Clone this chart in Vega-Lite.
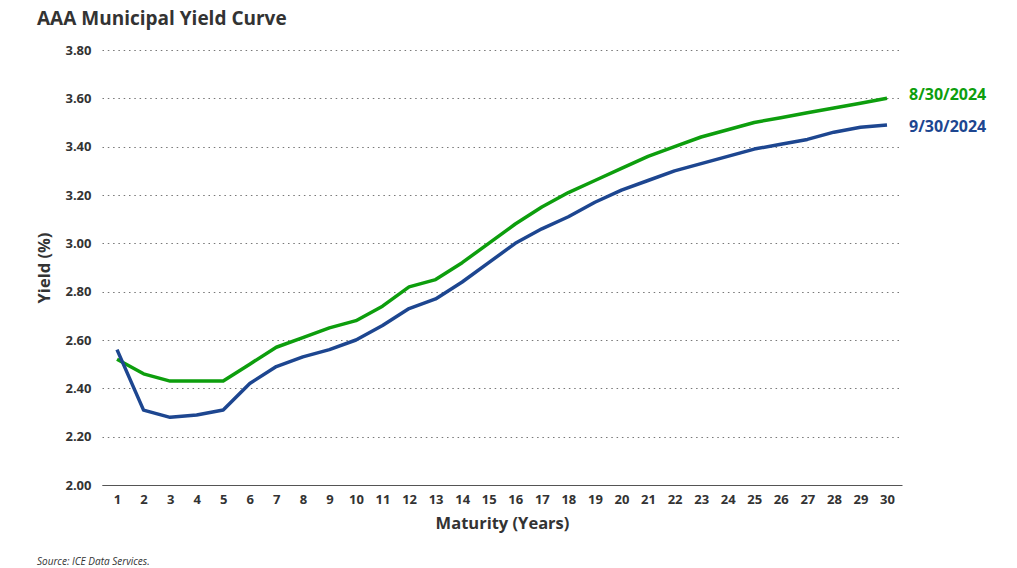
{
  "$schema": "https://vega.github.io/schema/vega-lite/v6.json",
  "padding": {"left": 36, "top": 10, "right": 10, "bottom": 4},
  "background": "white",
  "title": {"text": "AAA Municipal Yield Curve", "anchor": "start", "frame": "bounds", "fontSize": 19, "font": "Open Sans", "fontWeight": "bold", "color": "#333333", "offset": 15},
  "config": {
    "view": {"stroke": null},
    "font": "Open Sans",
    "axis": {"labelFont": "Open Sans", "titleFont": "Open Sans", "labelFontWeight": "bold", "titleFontWeight": "bold", "labelColor": "#333333", "titleColor": "#333333", "labelFontSize": 13, "titleFontSize": 16.5, "ticks": false}
  },
  "vconcat": [
    {
      "width": 800,
      "height": 435,
      "title": {"text": "Source: ICE Data Services.", "orient": "bottom", "anchor": "start", "frame": "bounds", "fontSize": 10, "fontStyle": "italic", "fontWeight": "normal", "font": "Open Sans", "color": "#333333", "offset": 25},
      "data": {"values": [
        {"maturity": 1, "date": "8/30/2024", "yield": 2.52}, {"maturity": 2, "date": "8/30/2024", "yield": 2.46},
        {"maturity": 3, "date": "8/30/2024", "yield": 2.43}, {"maturity": 4, "date": "8/30/2024", "yield": 2.43},
        {"maturity": 5, "date": "8/30/2024", "yield": 2.43}, {"maturity": 6, "date": "8/30/2024", "yield": 2.50},
        {"maturity": 7, "date": "8/30/2024", "yield": 2.57}, {"maturity": 8, "date": "8/30/2024", "yield": 2.61},
        {"maturity": 9, "date": "8/30/2024", "yield": 2.65}, {"maturity": 10, "date": "8/30/2024", "yield": 2.68},
        {"maturity": 11, "date": "8/30/2024", "yield": 2.74}, {"maturity": 12, "date": "8/30/2024", "yield": 2.82},
        {"maturity": 13, "date": "8/30/2024", "yield": 2.85}, {"maturity": 14, "date": "8/30/2024", "yield": 2.92},
        {"maturity": 15, "date": "8/30/2024", "yield": 3.00}, {"maturity": 16, "date": "8/30/2024", "yield": 3.08},
        {"maturity": 17, "date": "8/30/2024", "yield": 3.15}, {"maturity": 18, "date": "8/30/2024", "yield": 3.21},
        {"maturity": 19, "date": "8/30/2024", "yield": 3.26}, {"maturity": 20, "date": "8/30/2024", "yield": 3.31},
        {"maturity": 21, "date": "8/30/2024", "yield": 3.36}, {"maturity": 22, "date": "8/30/2024", "yield": 3.40},
        {"maturity": 23, "date": "8/30/2024", "yield": 3.44}, {"maturity": 24, "date": "8/30/2024", "yield": 3.47},
        {"maturity": 25, "date": "8/30/2024", "yield": 3.50}, {"maturity": 26, "date": "8/30/2024", "yield": 3.52},
        {"maturity": 27, "date": "8/30/2024", "yield": 3.54}, {"maturity": 28, "date": "8/30/2024", "yield": 3.56},
        {"maturity": 29, "date": "8/30/2024", "yield": 3.58}, {"maturity": 30, "date": "8/30/2024", "yield": 3.60},
        {"maturity": 1, "date": "9/30/2024", "yield": 2.56}, {"maturity": 2, "date": "9/30/2024", "yield": 2.31},
        {"maturity": 3, "date": "9/30/2024", "yield": 2.28}, {"maturity": 4, "date": "9/30/2024", "yield": 2.29},
        {"maturity": 5, "date": "9/30/2024", "yield": 2.31}, {"maturity": 6, "date": "9/30/2024", "yield": 2.42},
        {"maturity": 7, "date": "9/30/2024", "yield": 2.49}, {"maturity": 8, "date": "9/30/2024", "yield": 2.53},
        {"maturity": 9, "date": "9/30/2024", "yield": 2.56}, {"maturity": 10, "date": "9/30/2024", "yield": 2.60},
        {"maturity": 11, "date": "9/30/2024", "yield": 2.66}, {"maturity": 12, "date": "9/30/2024", "yield": 2.73},
        {"maturity": 13, "date": "9/30/2024", "yield": 2.77}, {"maturity": 14, "date": "9/30/2024", "yield": 2.84},
        {"maturity": 15, "date": "9/30/2024", "yield": 2.92}, {"maturity": 16, "date": "9/30/2024", "yield": 3.00},
        {"maturity": 17, "date": "9/30/2024", "yield": 3.06}, {"maturity": 18, "date": "9/30/2024", "yield": 3.11},
        {"maturity": 19, "date": "9/30/2024", "yield": 3.17}, {"maturity": 20, "date": "9/30/2024", "yield": 3.22},
        {"maturity": 21, "date": "9/30/2024", "yield": 3.26}, {"maturity": 22, "date": "9/30/2024", "yield": 3.30},
        {"maturity": 23, "date": "9/30/2024", "yield": 3.33}, {"maturity": 24, "date": "9/30/2024", "yield": 3.36},
        {"maturity": 25, "date": "9/30/2024", "yield": 3.39}, {"maturity": 26, "date": "9/30/2024", "yield": 3.41},
        {"maturity": 27, "date": "9/30/2024", "yield": 3.43}, {"maturity": 28, "date": "9/30/2024", "yield": 3.46},
        {"maturity": 29, "date": "9/30/2024", "yield": 3.48}, {"maturity": 30, "date": "9/30/2024", "yield": 3.49}
      ]},
      "encoding": {
        "x": {"field": "maturity", "type": "ordinal", "scale": {"type": "point", "padding": 0.565},
              "axis": {"title": "Maturity (Years)", "labelAngle": 0, "labelPadding": 8, "titlePadding": 9, "domain": true, "domainColor": "#555555", "domainWidth": 1, "grid": false}},
        "y": {"field": "yield", "type": "quantitative", "scale": {"domain": [2.0, 3.8], "nice": false, "zero": false},
              "axis": {"title": "Yield (%)", "format": ".2f", "values": [2.0, 2.2, 2.4, 2.6, 2.8, 3.0, 3.2, 3.4, 3.6, 3.8], "domain": false, "labelPadding": 11, "titlePadding": 12, "grid": true, "gridColor": "#777777", "gridDash": [1.5, 3.8], "gridWidth": 1.2}},
        "color": {"field": "date", "type": "nominal", "scale": {"domain": ["8/30/2024", "9/30/2024"], "range": ["#0d9e0d", "#1d4690"]}, "legend": null}
      },
      "layer": [
        {"mark": {"type": "line", "strokeWidth": 3.5, "strokeJoin": "round"}},
        {"transform": [{"filter": "datum.maturity == 30 && datum.date == '8/30/2024'"}],
         "mark": {"type": "text", "align": "left", "baseline": "middle", "dx": 22, "dy": -3, "fontSize": 16, "fontWeight": "bold", "font": "Open Sans"},
         "encoding": {"text": {"field": "date"}}},
        {"transform": [{"filter": "datum.maturity == 30 && datum.date == '9/30/2024'"}],
         "mark": {"type": "text", "align": "left", "baseline": "middle", "dx": 22, "dy": 2, "fontSize": 16, "fontWeight": "bold", "font": "Open Sans"},
         "encoding": {"text": {"field": "date"}}}
      ]
    }
  ]
}
